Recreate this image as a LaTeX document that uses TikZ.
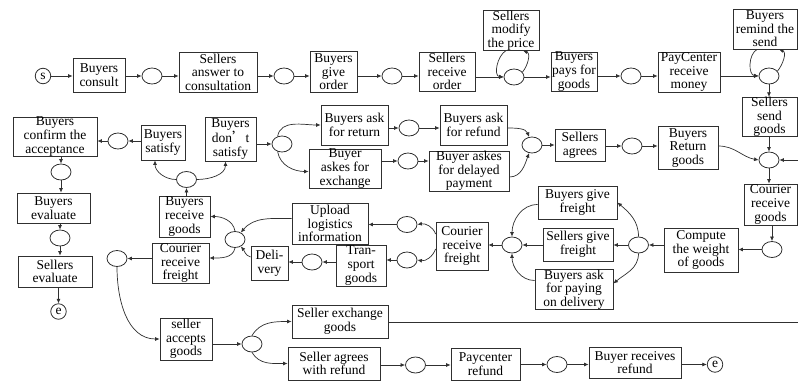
\documentclass[tikz,border=0pt]{standalone}
\usepackage{fontspec}
\setmainfont{Liberation Serif}
\newfontfamily\cjk{Noto Sans CJK SC}
\usetikzlibrary{arrows.meta,shapes.geometric}
\definecolor{lc}{HTML}{303030}
\newcommand{\fs}{\fontsize{13.5}{13.6}\selectfont}
\tikzset{
  box/.style={draw=lc, line width=0.8pt, align=center, inner xsep=1pt, inner ysep=0pt, font=\fs},
  sz/.style 2 args={minimum width=#1pt, minimum height=#2pt},
  place/.style={draw=lc, line width=0.8pt, ellipse, minimum width=20pt, minimum height=16pt, inner sep=0pt},
  term/.style={draw=lc, line width=0.8pt, circle, minimum size=15.5pt, inner sep=0pt, font=\fs},
  arr/.style={draw=lc, line width=0.7pt, -{Latex[length=4.5pt,width=4pt]}},
  ln/.style={draw=lc, line width=0.7pt}
}
\begin{document}
\begin{tikzpicture}[x=1pt, y=-1pt]
\useasboundingbox (0,0) rectangle (798,381);

% ---- ordering and payment row ----
\node[term] (s) at (43,76) {s};
\node[box, sz={52}{34}] (bc) at (99,75) {Buyers\\consult};
\node[place] (p1) at (152,76) {};
\node[box, sz={78}{40}] (sac) at (218,72) {Sellers\\answer to\\consultation};
\node[place] (p2) at (284,76) {};
\node[box, sz={47}{41}] (bgo) at (333.5,72) {Buyers\\give\\order};
\node[place] (p3) at (392,76) {};
\node[box, sz={56}{39}] (sro) at (447,71.5) {Sellers\\receive\\order};
\node[place] (p4) at (514,77) {};
\node[box, sz={56}{37}] (smp) at (511,30.5) {Sellers\\modify\\the price};
\node[box, sz={46}{39}] (bpg) at (574,71.5) {Buyers\\pays for\\goods};
\node[place] (p5) at (631,76) {};
\node[box, sz={62}{40}] (pcm) at (689,72) {PayCenter\\receive\\money};
\node[place] (p6) at (769,76) {};
\node[box, sz={64}{40}] (brs) at (765,29) {Buyers\\remind the\\send};
\node[box, sz={55}{38}] (ssg) at (769.5,117) {Sellers\\send\\goods};

% ---- after-sale row ----
\node[place] (p7) at (769,160) {};
\node[box, sz={60}{43}] (brg) at (688,148) {Buyers\\Return\\goods};
\node[place] (p8) at (632,146) {};
\node[box, sz={50}{32}] (sag) at (580,145) {Sellers\\agrees};
\node[place] (p9) at (532,145) {};
\node[box, sz={67}{40}] (bar) at (354.5,125) {Buyers ask\\for return};
\node[place] (p10) at (409,128) {};
\node[box, sz={67}{40}] (baf) at (473.5,125) {Buyers ask\\for refund};
\node[box, sz={72}{37}] (bae) at (345,168.5) {Buyer\\askes for\\exchange};
\node[place] (p11) at (408,161) {};
\node[box, sz={80}{40}] (bad) at (469,171) {Buyer askes\\for delayed\\payment};
\node[place] (p12) at (282,144) {};
\node[box, sz={51}{44}] (bds) at (230.5,139) {Buyers\\don{\cjk ’}t\\satisfy};
\node[box, sz={44}{35}] (bsa) at (163,142.5) {Buyers\\satisfy};
\node[place] (p13) at (118,141) {};
\node[box, sz={84}{39}] (bca) at (55,136.5) {Buyers\\confirm the\\acceptance};
\node[place] (p14) at (61,172) {};
\node[box, sz={73}{30}] (bev) at (53.5,208) {Buyers\\evaluate};
\node[place] (p15) at (60,238) {};
\node[box, sz={74}{31}] (sev) at (55,271.5) {Sellers\\evaluate};
\node[term] (e1) at (58.5,311.5) {e};

% ---- delivery ----
\node[place] (p16) at (186.5,179.5) {};
\node[box, sz={51}{41}] (brc) at (184.5,216.5) {Buyers\\receive\\goods};
\node[place] (p17) at (235,239.5) {};
\node[box, sz={57}{40}] (crfl) at (180.5,263) {Courier\\receive\\freight};
\node[place] (p18) at (117,258.5) {};
\node[box, sz={52}{42}] (sacg) at (186,339) {seller\\accepts\\goods};
\node[place] (p19) at (252,344) {};
\node[box, sz={96}{33}] (seg) at (340,321.5) {Seller exchange\\goods};
\node[box, sz={92}{33}] (sar) at (334,363.5) {Seller agrees\\with refund};
\node[place] (p20) at (415.5,365) {};
\node[box, sz={69}{32}] (pcr) at (485.5,364) {Paycenter\\refund};
\node[place] (p21) at (557,364.5) {};
\node[box, sz={92}{31}] (brr) at (635,362.5) {Buyer receives\\refund};
\node[term] (e2) at (715,364.5) {e};

% ---- freight ----
\node[box, sz={53}{41}] (crg) at (770.5,204.5) {Courier\\receive\\goods};
\node[place] (p22) at (772,249.5) {};
\node[box, sz={74}{44}] (cwg) at (701,250) {Compute\\the weight\\of goods};
\node[place] (p23) at (638.5,245) {};
\node[box, sz={79}{33}] (bgf) at (577.5,202.5) {Buyers give\\freight};
\node[box, sz={70}{33}] (sgf) at (578,244.5) {Sellers give\\freight};
\node[box, sz={78}{39}] (bap) at (574,289.5) {Buyers ask\\for paying\\on delivery};
\node[place] (p24) at (512,245) {};
\node[box, sz={52}{48}] (crfr) at (462,246) {Courier\\receive\\freight};
\node[place] (p25) at (407,224.5) {};
\node[place] (p26) at (407,260) {};
\node[box, sz={76}{41}] (ulg) at (330,223.5) {Upload\\logistics\\information};
\node[box, sz={50}{41}] (tsg) at (361,265.5) {Tran-\\sport\\goods};
\node[place] (p27) at (312,262) {};
\node[box, sz={37}{34}] (dlv) at (269.5,263) {Deli-\\very};

\coordinate (inR) at (798,160);
\coordinate (outR) at (798,322);

% ---- connectors: first row ----
\draw[arr] (s) -- (bc.west |- s);
\draw[arr] (bc.east |- p1) -- (p1);
\draw[arr] (p1) -- (sac.west |- p1);
\draw[arr] (sac.east |- p2) -- (p2);
\draw[arr] (p2) -- (bgo.west |- p2);
\draw[arr] (bgo.east |- p3) -- (p3);
\draw[arr] (p3) -- (sro.west |- p3);
\draw[arr] (sro.east |- p4) -- (p4);
\draw[arr] (p4) -- (bpg.west |- p4);
\draw[arr] (bpg.east |- p5) -- (p5);
\draw[arr] (p5) -- (pcm.west |- p5);
\draw[arr] (pcm.east |- p6) -- (p6);
\draw[arr] (p6) -- (ssg.north -| p6);
\draw[arr] ([xshift=-5pt]smp.south) to[out=-150, in=175] (p4.west);
\draw[arr] (p4.30) to[out=50, in=-20] ([xshift=12pt]smp.south);
\draw[arr] ([xshift=-8pt]brs.south) to[out=-150, in=175] (p6.west);
\draw[arr] (p6.30) to[out=50, in=-20] ([xshift=14pt]brs.south);

% ---- connectors: after-sale row ----
\draw[arr] (ssg.south -| p7) -- (p7);
\draw[arr] (inR) -- (p7);
\draw[arr] ([yshift=2pt]brg.east) to[out=0, in=170] (p7.west);
\draw[arr] (p7) -- (crg.north -| p7);
\draw[arr] (crg.south -| p22) -- (p22);
\draw[arr] (p8) -- (brg.west |- p8);
\draw[arr] (sag.east |- p8) -- (p8);
\draw[arr] (p9) -- (sag.west |- p9);
\draw[arr] ([yshift=-3pt]baf.east) to[out=0, in=110] (p9.110);
\draw[arr] ([yshift=-6pt]bad.east) to[out=0, in=-110] (p9.-110);
\draw[arr] (bar.east |- p10) -- (p10);
\draw[arr] (p10) -- (baf.west |- p10);
\draw[arr] (bae.east |- p11) -- (p11);
\draw[arr] (p11) -- (bad.west |- p11);
\draw[arr] (p12.120) to[out=80, in=180] (bar.west);
\draw[arr] (p12.-120) to[out=-80, in=180] ([yshift=-3pt]bae.west);
\draw[arr] (bds.east |- p12) -- (p12);
\draw[arr] (bsa.west |- p13) -- (p13);
\draw[arr] (p13) -- (bca.east |- p13);
\draw[arr] (p16.west) to[out=180, in=-90] ([xshift=-8pt]bsa.south);
\draw[arr] (p16.east) to[out=0, in=-90] ([xshift=-5pt]bds.south);
\draw[arr] (bca.south -| p14) -- (p14);
\draw[arr] (p14) -- (bev.north -| p14);
\draw[arr] (bev.south -| p15) -- (p15);
\draw[arr] (p15) -- (sev.north -| p15);
\draw[arr] (sev.south -| e1) -- (e1);

% ---- connectors: delivery ----
\draw[arr] (brc.north -| p16) -- (p16);
\draw[arr] (p17.north) to[out=100, in=0] (brc.east);
\draw[arr] (p17.south) to[out=-100, in=0] ([yshift=5pt]crfl.east);
\draw[arr] ([yshift=5pt]ulg.west) to[out=180, in=50] (p17.50);
\draw[arr] ([yshift=6pt]dlv.west) to[out=165, in=-50] (p17.-50);
\draw[arr] (crfl.west |- p18) -- (p18);
\draw[arr] (p18.south) to[out=-90, in=180] (sacg.west);
\draw[arr] (sacg.east |- p19) -- (p19);
\draw[arr] (p19.north) to[out=60, in=180] (seg.west);
\draw[arr] (p19.south) to[out=-60, in=180] (sar.west);
\draw[ln] (seg.east |- outR) -- (outR);
\draw[arr] (sar.east |- p20) -- (p20);
\draw[arr] (p20) -- (pcr.west |- p20);
\draw[arr] (pcr.east |- p21) -- (p21);
\draw[arr] (p21) -- (brr.west |- p21);
\draw[arr] (brr.east |- e2) -- (e2);

% ---- connectors: freight ----
\draw[arr] (p22) -- (cwg.east |- p22);
\draw[arr] (cwg.west |- p23) -- (p23);
\draw[arr] (p23.north) to[out=90, in=-40] (bgf.east);
\draw[arr] (p23) -- (sgf.east |- p23);
\draw[arr] (p23.south) to[out=-90, in=40] ([yshift=6pt]bap.east);
\draw[arr] ([yshift=-2pt]bgf.west) to[out=180, in=90] (p24.north);
\draw[arr] (sgf.west |- p24) -- (p24);
\draw[arr] ([yshift=9pt]bap.west) to[out=180, in=-90] (p24.south);
\draw[arr] (p24) -- (crfr.east |- p24);
\draw[arr] ([yshift=12pt]crfr.west) to[out=110, in=10] (p25.east);
\draw[arr] ([yshift=-3pt]crfr.west) to[out=-110, in=-10] (p26.east);
\draw[arr] (p25) -- (ulg.east |- p25);
\draw[arr] (p26) -- (tsg.east |- p26);
\draw[arr] (tsg.west |- p27) -- (p27);
\draw[arr] (p27) -- (dlv.east |- p27);
\end{tikzpicture}
\end{document}
